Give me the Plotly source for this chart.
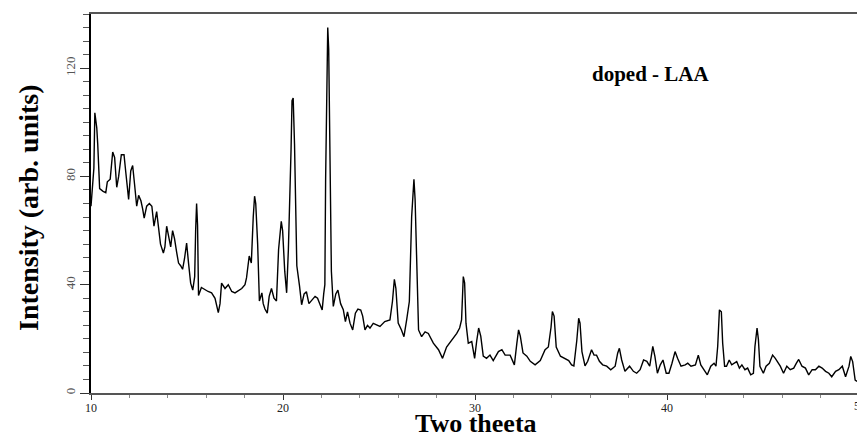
import plotly.graph_objects as go

two_theta = [
    10.00, 10.15, 10.20, 10.30, 10.35, 10.40, 10.45, 10.63, 10.77, 10.85, 11.00, 11.13, 11.23, 11.34,
    11.44, 11.58, 11.72, 11.82, 11.96, 12.07, 12.17, 12.27, 12.38, 12.48, 12.60, 12.69, 12.77, 12.90,
    13.04, 13.17, 13.28, 13.42, 13.52, 13.62, 13.77, 13.85, 13.94, 14.05, 14.15, 14.25, 14.35, 14.46,
    14.56, 14.67, 14.77, 14.87, 14.98, 15.08, 15.19, 15.30, 15.40, 15.45, 15.50, 15.55, 15.60,
    15.75, 15.94, 16.10, 16.28, 16.46, 16.63, 16.72, 16.80, 16.98, 17.15, 17.33, 17.50, 17.68, 17.85,
    18.02, 18.10, 18.24, 18.35, 18.45, 18.52, 18.58, 18.68, 18.77, 18.90, 18.97, 19.06, 19.18, 19.28,
    19.40, 19.53, 19.66, 19.77, 19.91, 19.98, 20.09, 20.19, 20.28, 20.36, 20.42, 20.47, 20.53, 20.60,
    20.67, 20.72, 20.86, 20.97, 21.10, 21.22, 21.35, 21.46, 21.67, 21.80, 21.94, 22.04, 22.12, 22.18,
    22.22, 22.28, 22.33, 22.38, 22.45, 22.52, 22.62, 22.75, 22.86, 23.00, 23.14, 23.25, 23.36, 23.49,
    23.63, 23.77, 23.90, 24.05, 24.15, 24.27, 24.40, 24.53, 24.70, 24.96,
    25.05, 25.30, 25.57, 25.70, 25.80, 25.88, 26.00, 26.17, 26.30, 26.44, 26.58, 26.70, 26.82, 26.88,
    26.96, 27.06, 27.22, 27.40, 27.57, 27.83, 28.10, 28.31, 28.52, 28.78, 29.05, 29.20, 29.30, 29.39,
    29.46, 29.53, 29.65, 29.83, 29.98, 30.09, 30.19, 30.30, 30.43, 30.60, 30.78, 30.95, 31.22, 31.40,
    31.57, 31.83, 32.05, 32.18, 32.27, 32.36, 32.50, 32.70, 32.88, 33.13, 33.40, 33.65, 33.82, 33.96,
    34.03, 34.12, 34.23, 34.45, 34.70, 34.88, 35.03, 35.15, 35.30, 35.40, 35.47, 35.57, 35.73, 35.87,
    36.07, 36.20, 36.33, 36.48, 36.65, 36.86, 37.07, 37.30, 37.43, 37.52, 37.64, 37.81, 38.05, 38.25,
    38.42, 38.60, 38.78, 38.95, 39.10, 39.18, 39.26, 39.37, 39.50, 39.65, 39.79, 39.96, 40.10, 40.26,
    40.42, 40.55, 40.73, 40.95, 41.08, 41.25, 41.48, 41.63, 41.76, 41.98, 42.10, 42.28, 42.45, 42.55,
    42.64, 42.73, 42.83, 42.90, 43.00, 43.10, 43.24, 43.37, 43.49, 43.63, 43.77, 43.90, 44.06, 44.20,
    44.36, 44.50, 44.58, 44.69, 44.76, 44.84, 45.02, 45.16, 45.33, 45.50, 45.64, 45.80, 45.90, 46.07,
    46.24, 46.42, 46.60, 46.74, 46.86, 47.03, 47.21, 47.38, 47.56, 47.73, 47.91, 48.08, 48.26, 48.43,
    48.58, 48.78, 48.95, 49.13, 49.30, 49.48, 49.57, 49.67, 49.80, 49.90,
]

intensity = [
    69.0, 83.0, 103.5, 98.0, 92.0, 79.0, 75.5, 74.5, 74.0, 78.0, 79.0, 89.0, 87.0, 76.0,
    80.0, 88.0, 88.0, 81.0, 71.5, 82.0, 84.0, 77.0, 69.0, 73.0, 71.0, 68.0, 64.6, 69.0,
    70.0, 69.0, 61.6, 67.0, 60.0, 55.0, 51.7, 54.0, 61.6, 57.0, 54.0, 60.0, 57.0, 52.0,
    48.0, 47.0, 45.7, 49.6, 55.4, 48.0, 40.6, 38.0, 43.0, 60.0, 70.0, 62.0, 36.0,
    39.0, 38.0, 37.5, 37.0, 35.0, 29.7, 33.0, 40.6, 38.6, 40.0, 37.5, 37.0, 38.0, 38.6,
    40.0, 42.5, 50.6, 48.0, 65.0, 72.7, 70.0, 55.0, 34.0, 37.0, 33.0, 31.0, 29.5, 35.7,
    38.6, 35.0, 34.0, 53.0, 63.4, 60.0, 45.0, 37.0, 53.0, 71.5, 90.0, 108.0, 109.0, 92.0,
    70.0, 47.0, 39.6, 32.6, 36.6, 37.4, 33.0, 34.0, 35.7, 35.0, 32.0, 30.7, 36.6, 40.0,
    79.0, 104.0, 135.0, 127.0, 82.0, 45.0, 32.0, 36.6, 38.0, 33.0, 30.8, 26.4, 30.0, 25.8,
    23.3, 29.5, 31.0, 30.6, 28.4, 23.3, 25.0, 24.0, 25.7, 25.0,
    24.6, 26.4, 27.0, 33.8, 42.0, 38.6, 25.8, 23.3, 20.8, 27.0, 33.8, 65.0, 78.9, 71.5,
    46.8, 23.3, 20.8, 22.6, 22.0, 18.4, 16.0, 12.8, 17.0, 19.3, 22.0, 24.0, 27.0, 43.0,
    40.7, 25.8, 18.4, 19.0, 12.8, 19.3, 24.0, 21.0, 13.6, 12.8, 14.0, 12.0, 15.3, 16.0,
    14.0, 14.0, 10.4, 18.4, 23.3, 21.0, 14.8, 13.6, 11.7, 10.4, 12.0, 16.0, 17.0, 24.3,
    30.1, 28.4, 17.0, 13.6, 12.8, 12.0, 10.4, 10.0, 19.3, 27.6, 25.8, 15.3, 10.0, 11.7,
    16.0, 14.0, 14.0, 11.7, 10.4, 9.9, 8.6, 9.9, 14.7, 16.5, 12.2, 8.0, 9.9, 8.0,
    7.3, 8.6, 12.2, 11.7, 9.9, 14.7, 17.2, 13.5, 7.3, 10.4, 12.2, 7.3, 7.3, 11.0,
    15.3, 12.8, 9.9, 10.4, 11.0, 9.9, 10.4, 14.0, 10.4, 8.0, 6.7, 9.9, 11.0, 9.9,
    17.2, 30.7, 30.0, 18.4, 9.9, 9.9, 12.2, 10.4, 11.0, 11.6, 9.2, 10.4, 8.6, 9.2,
    6.7, 7.3, 17.2, 24.0, 19.8, 9.9, 7.3, 9.9, 11.0, 14.0, 12.8, 11.0, 9.9, 7.3,
    9.9, 8.6, 9.2, 11.0, 12.4, 9.9, 9.2, 6.7, 8.6, 8.6, 9.9, 9.2, 8.0, 7.3,
    6.0, 8.0, 8.6, 9.9, 6.0, 9.9, 13.5, 11.6, 4.8, 4.3,
]

x_tick_vals = [10, 20, 30, 40]
x_tick_text = ["10", "20", "30", "40"]
y_tick_vals = [0, 40, 80, 120]
y_tick_text = ["0", "40", "80", "120"]

W, H = 857, 437
L, T, B = 91, 14, 44
plot_w = W - L
plot_h = H - T - B
px_per_unit = 19.2
x_max = 10 + plot_w / px_per_unit

serif = "Liberation Serif, Times New Roman, serif"

fig = go.Figure()
fig.add_trace(go.Scatter(
    x=two_theta, y=intensity, mode="lines",
    line=dict(color="black", width=1.4),
    showlegend=False, hoverinfo="skip",
))

fig.update_layout(
    width=W, height=H,
    margin=dict(l=L, r=0, t=T, b=B, autoexpand=False),
    plot_bgcolor="white", paper_bgcolor="white",
    font=dict(family=serif, color="#222"),
    xaxis=dict(
        range=[10, x_max], showgrid=False, zeroline=False, automargin=False,
        showline=True, linecolor="#555", linewidth=2, mirror=True,
        tickmode="array", tickvals=x_tick_vals, ticktext=x_tick_text,
        ticks="outside", ticklen=5, tickwidth=1, tickcolor="#333",
        minor=dict(dtick=2, tick0=10, ticks="outside", ticklen=3, tickcolor="#888"),
        tickfont=dict(family=serif, size=12, color="#222"),
        ticklabelstandoff=-2,
    ),
    yaxis=dict(
        range=[0, 140], showgrid=False, zeroline=False, automargin=False,
        showline=True, linecolor="black", linewidth=1.5,
        tickmode="array", tickvals=y_tick_vals, ticktext=y_tick_text,
        ticks="outside", ticklen=9, tickwidth=1, tickcolor="#333",
        minor=dict(dtick=5, tick0=0, ticks="outside", ticklen=6, tickcolor="#555"),
        tickangle=-90,
        tickfont=dict(family=serif, size=13, color="#555"),
    ),
    annotations=[
        dict(x=10 + (651 - L) / px_per_unit, y=(393 - 75) / 2.7, xref="x", yref="y",
             text="<b>doped - LAA</b>", showarrow=False,
             font=dict(family=serif, size=21, color="black")),
        dict(x=(852 - L) / plot_w, y=0, xref="paper", yref="paper", xanchor="left", yanchor="top",
             yshift=-4, text="50", showarrow=False, font=dict(family=serif, size=12, color="#222")),
        dict(x=(476 - L) / plot_w, y=(393 - 423) / plot_h, xref="paper", yref="paper",
             xanchor="center", yanchor="middle", text="<b>Two theeta</b>", showarrow=False,
             font=dict(family=serif, size=26, color="black")),
        dict(x=(28 - L) / plot_w, y=(393 - 208) / plot_h, xref="paper", yref="paper",
             xanchor="center", yanchor="middle", textangle=-90,
             text="<b>Intensity (arb. units)</b>", showarrow=False,
             font=dict(family=serif, size=28, color="black")),
    ],
)

fig.write_html(
    "out.html",
    config={"displayModeBar": False},
    post_script="document.body.style.margin='0';document.body.style.overflow='hidden';",
)
